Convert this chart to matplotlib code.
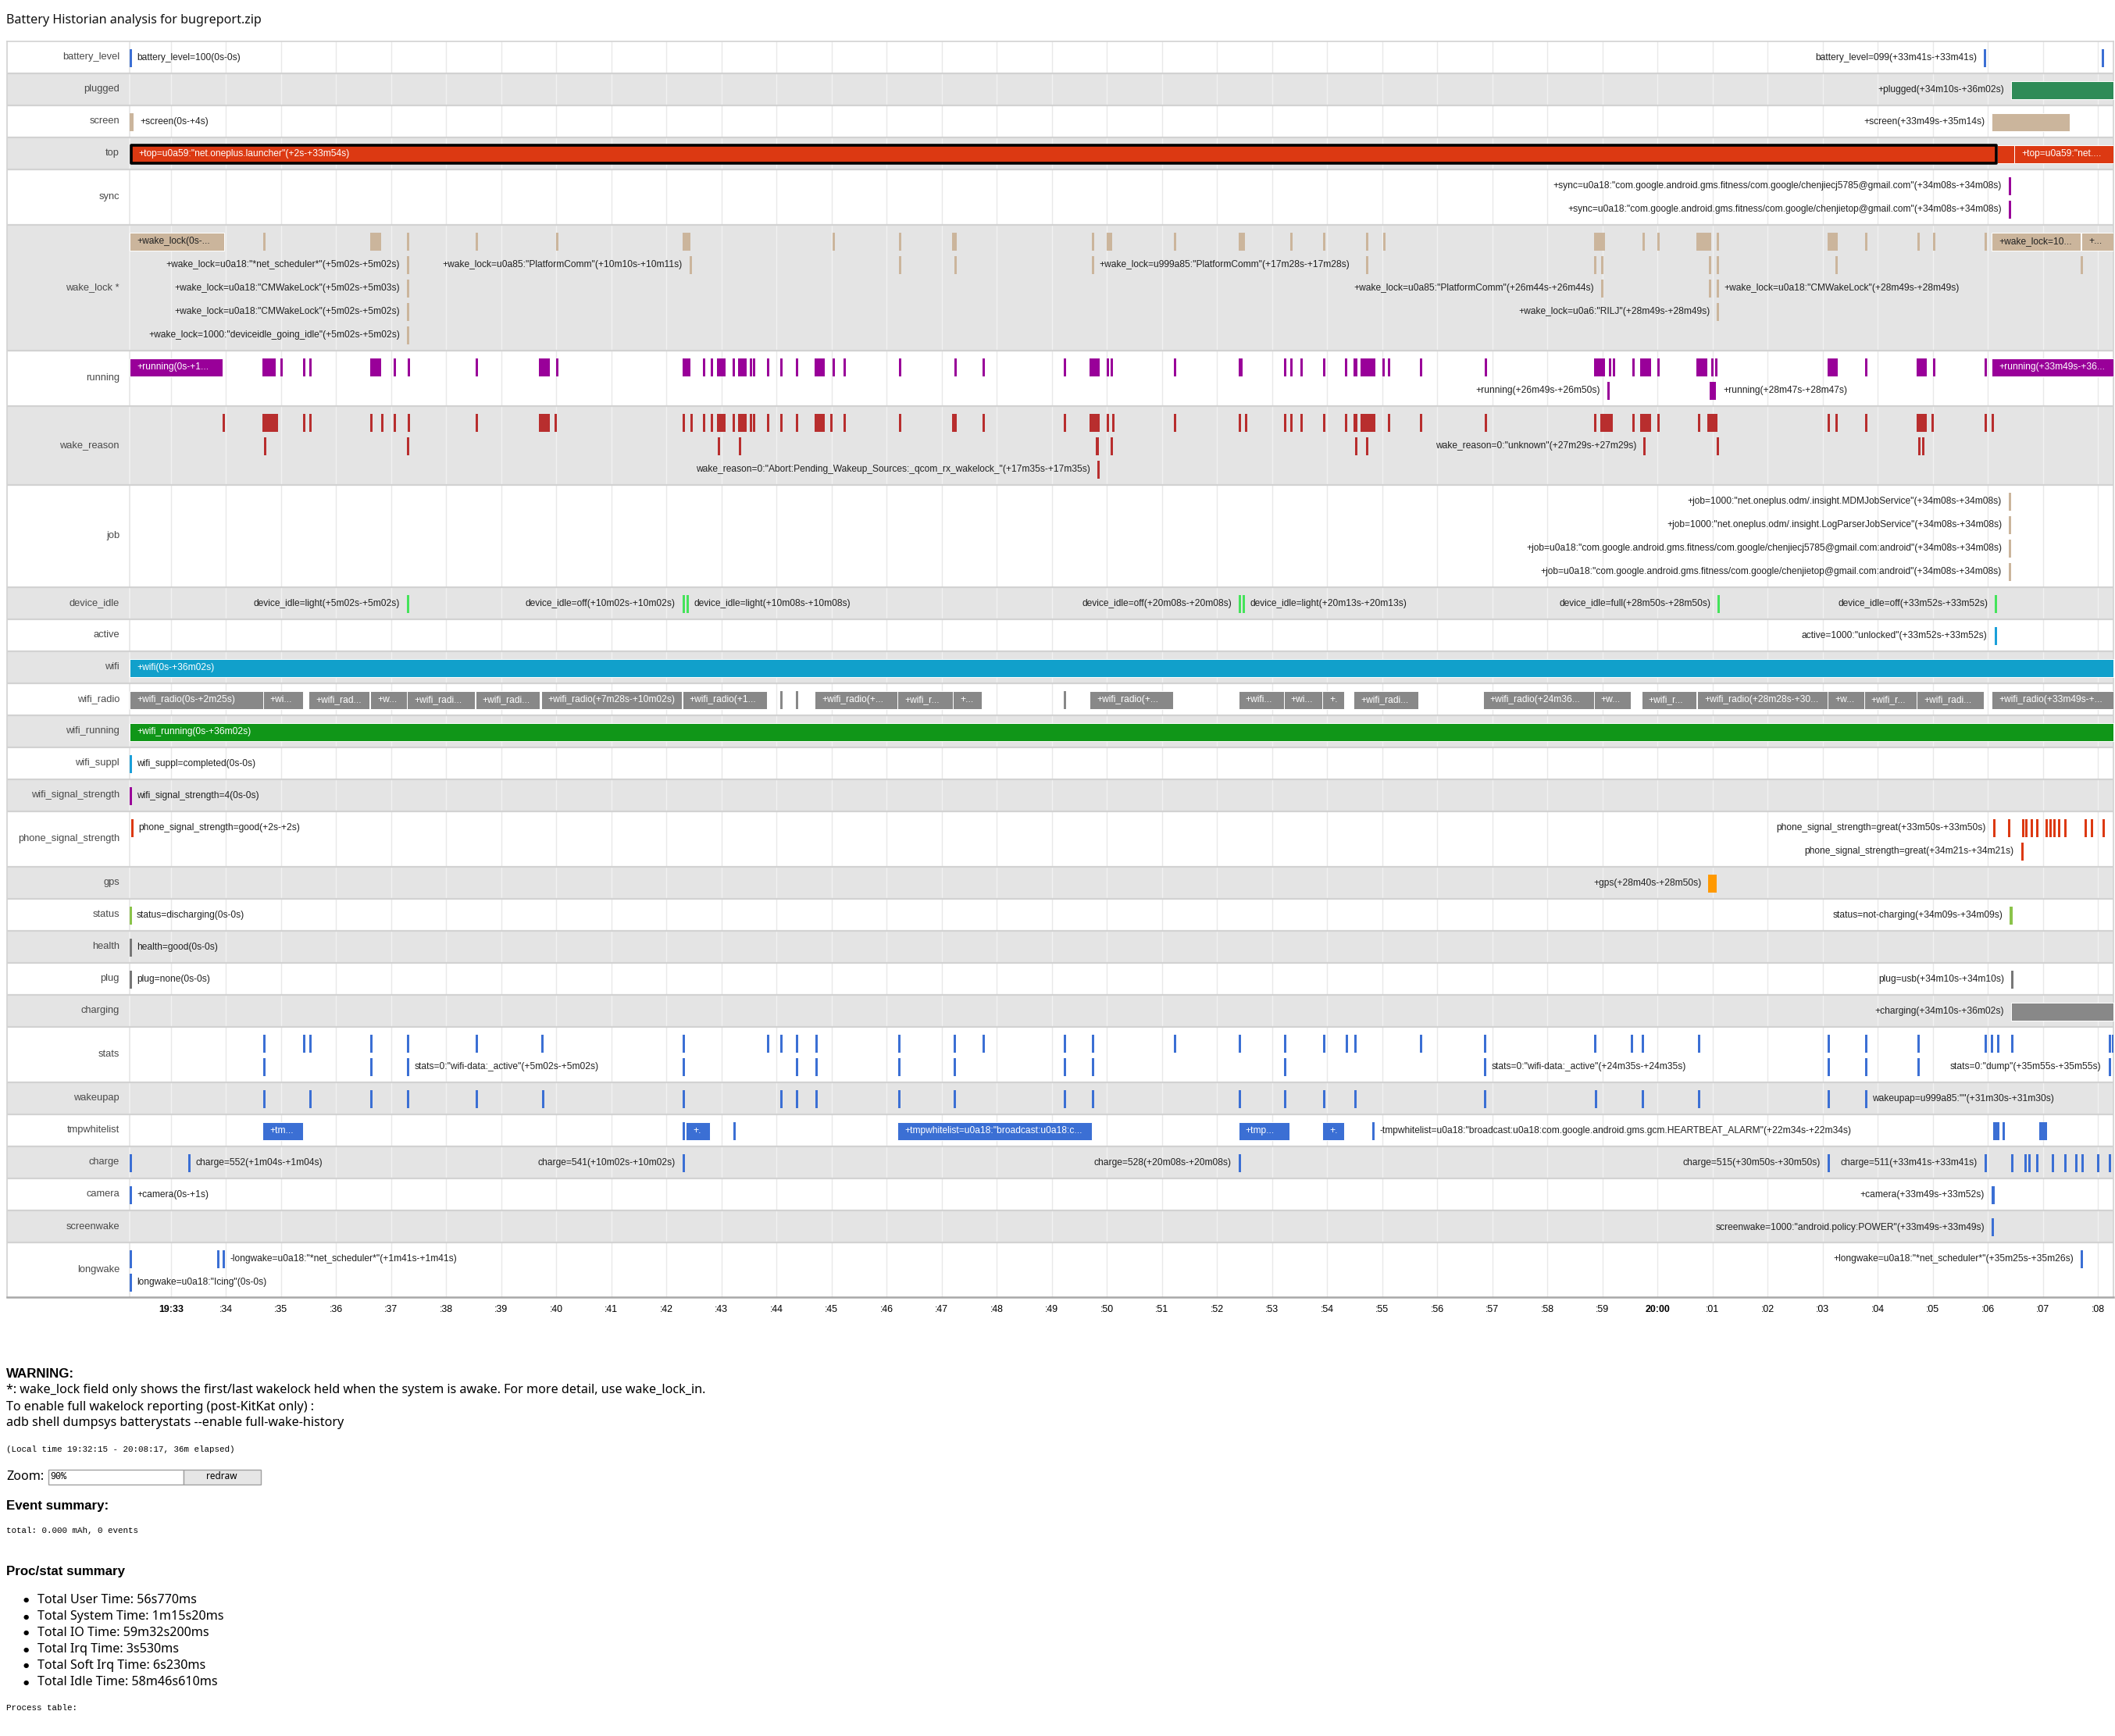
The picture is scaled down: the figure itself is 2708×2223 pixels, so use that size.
import matplotlib.pyplot as plt
from matplotlib.patches import Rectangle

W, H = 2708, 2223

# time axis: minutes after 19:32:15, run ends 20:08:17
T_END = 36.03
X0, X1 = 166, 2706          # pixel where t=0 and t=T_END
FRAME_L, FRAME_T, FRAME_B = 9, 53, 1661
PPM = (X1 - X0) / T_END     # pixels per minute
MIN_W = 3 / PPM             # instant events drawn 3px wide

ROW_NAMES = ['battery_level', 'plugged', 'screen', 'top', 'sync', 'wake_lock *', 'running',
             'wake_reason', 'job', 'device_idle', 'active', 'wifi', 'wifi_radio', 'wifi_running',
             'wifi_suppl', 'wifi_signal_strength', 'phone_signal_strength', 'gps', 'status',
             'health', 'plug', 'charging', 'stats', 'wakeupap', 'tmpwhitelist', 'charge',
             'camera', 'screenwake', 'longwake']
ROW_LANES = [1, 1, 1, 1, 2, 5, 2, 3, 4, 1, 1, 1, 1, 1, 1, 1, 2, 1, 1, 1, 1, 1, 2, 1, 1, 1, 1, 1, 2]
ROW_COLORS = ['#3b6fd4', '#2e8b57', '#cbb59c', '#dc3912', '#990099', '#cbb59c', '#990099',
              '#b82e2e', '#cbb59c', '#44e35a', '#1a9fd9', '#11a0cb', '#888888', '#109618',
              '#1a9fd9', '#990099', '#dc3912', '#ff9900', '#8bc34a', '#777777', '#777777',
              '#888888', '#3b6fd4', '#3b6fd4', '#3b6fd4', '#3b6fd4', '#3b6fd4', '#3b6fd4', '#3b6fd4']

TICK_LABELS = ['19:33', ':34', ':35', ':36', ':37', ':38', ':39', ':40', ':41', ':42', ':43',
               ':44', ':45', ':46', ':47', ':48', ':49', ':50', ':51', ':52', ':53', ':54', ':55',
               ':56', ':57', ':58', ':59', '20:00', ':01', ':02', ':03', ':04', ':05', ':06',
               ':07', ':08']
FIRST_TICK = 0.75  # 19:33:00

# ---- events per row: lanes of instants (float) or spans (start, end) in minutes ----
battery_level = [[0.0, 33.68, 35.82]]
battery_level_text = [(0, 0.0, 'r', 'battery_level=100(0s-0s)'),
                      (0, 33.68, 'l', 'battery_level=099(+33m41s-+33m41s)')]

plugged = [[(34.17, 36.03)]]
plugged_text = [(0, 34.17, 'l', '+plugged(+34m10s-+36m02s)')]

screen = [[(0.0, 0.067), (33.82, 35.23)]]
screen_text = [(0, 0.067, 'r', '+screen(0s-+4s)'), (0, 33.82, 'l', '+screen(+33m49s-+35m14s)')]

top = [[(33.92, 34.23), (34.23, 36.03)]]
top_selected = (0.033, 33.9)
top_text = [(0, 0.033, 'in', '+top=u0a59:"net.oneplus.launcher"(+2s-+33m54s)'),
            (0, 34.23, 'in', '+top=u0a59:"net....')]

sync = [[34.13], [34.13]]
sync_text = [(0, 34.13, 'l', '+sync=u0a18:"com.google.android.gms.fitness/com.google/chenjiecj5785@gmail.com"(+34m08s-+34m08s)'),
             (1, 34.13, 'l', '+sync=u0a18:"com.google.android.gms.fitness/com.google/chenjietop@gmail.com"(+34m08s-+34m08s)')]

wake_lock = [
    [(0.0, 1.72), 2.425, (4.37, 4.57), 5.04, 6.28, 7.74, (10.04, 10.19), 12.76, 13.97,
     (14.94, 15.02), 17.48, (17.74, 17.84), 18.96, (20.14, 20.25), 21.08, 21.67, 22.46, 22.76,
     (26.59, 26.79), 27.48, 27.75, (28.45, 28.73), 28.83, (30.84, 31.02), 31.52, 32.47, 32.76,
     33.69, (33.82, 35.43), (35.45, 36.03)],
    [5.04, 10.17, 13.97, 14.98, 17.48, 22.46, 26.59, 26.73, 28.68, 28.83, 30.98, 35.44],
    [5.04, 26.73, 28.68, 28.83],
    [5.04, 28.83],
    [5.04],
]
wake_lock_text = [
    (0, 0.0, 'in', '+wake_lock(0s-...'), (0, 33.82, 'in', '+wake_lock=10...'), (0, 35.45, 'in', '+...'),
    (1, 5.04, 'l', '+wake_lock=u0a18:"*net_scheduler*"(+5m02s-+5m02s)'),
    (1, 10.17, 'l', '+wake_lock=u0a85:"PlatformComm"(+10m10s-+10m11s)'),
    (1, 17.48, 'r', '+wake_lock=u999a85:"PlatformComm"(+17m28s-+17m28s)'),
    (2, 5.04, 'l', '+wake_lock=u0a18:"CMWakeLock"(+5m02s-+5m03s)'),
    (2, 26.73, 'l', '+wake_lock=u0a85:"PlatformComm"(+26m44s-+26m44s)'),
    (2, 28.83, 'r', '+wake_lock=u0a18:"CMWakeLock"(+28m49s-+28m49s)'),
    (3, 5.04, 'l', '+wake_lock=u0a18:"CMWakeLock"(+5m02s-+5m02s)'),
    (3, 28.83, 'l', '+wake_lock=u0a6:"RILJ"(+28m49s-+28m49s)'),
    (4, 5.04, 'l', '+wake_lock=1000:"deviceidle_going_idle"(+5m02s-+5m02s)'),
]

running = [
    [(0.0, 1.69), (2.41, 2.65), 2.74, 3.15, 3.26, (4.37, 4.57), 4.79, 5.05, 6.28, (7.44, 7.63),
     7.74, (10.04, 10.19), 10.41, 10.56, (10.67, 10.82), (10.95, 11.0), (11.05, 11.2), 11.26,
     11.32, 11.57, 11.82, 12.1, (12.44, 12.62), 12.76, 12.97, 13.97, 14.98, 15.49, 16.96,
     (17.44, 17.62), 17.75, 17.82, 18.96, (20.14, 20.22), 20.96, 21.08, 21.26, 21.67, 22.07,
     (22.23, 22.3), (22.35, 22.62), 22.75, 22.85, 23.43, 24.61, (26.59, 26.8), 26.87, 26.94,
     27.29, (27.44, 27.63), 27.75, (28.45, 28.65), 28.72, 28.8, (30.84, 31.02), 31.52,
     (32.45, 32.64), 32.76, 33.69, (33.82, 36.03)],
    [26.84, (28.70, 28.81)],
]
running_text = [(0, 0.0, 'in', '+running(0s-+1...'), (0, 33.82, 'in', '+running(+33m49s-+36...'),
                (1, 26.84, 'l', '+running(+26m49s-+26m50s)'),
                (1, 28.81, 'r', '+running(+28m47s-+28m47s)')]

wake_reason = [
    [1.69, (2.41, 2.69), 3.15, 3.26, 4.37, 4.57, 4.79, 5.05, 6.28, (7.44, 7.63), 7.72, 10.04,
     10.19, 10.41, 10.56, (10.67, 10.82), (10.95, 11.0), (11.05, 11.2), 11.26, 11.32, 11.57,
     11.82, 12.1, (12.44, 12.62), 12.72, 12.97, 13.97, (14.94, 15.02), 15.49, 16.96,
     (17.44, 17.62), 17.75, 17.84, 18.96, 20.14, 20.25, 20.96, 21.08, 21.26, 21.67, 22.07,
     (22.23, 22.3), (22.35, 22.62), 22.85, 23.43, 24.61, 26.59, (26.71, 26.94), 27.29,
     (27.44, 27.63), 27.75, 28.48, (28.66, 28.84), 30.84, 30.98, 31.52, (32.45, 32.64), 32.73,
     33.69, 33.82],
    [2.44, 5.04, 10.68, 11.06, (17.55, 17.6), 17.82, 22.25, 22.46, 27.49, 28.83, 32.49, 32.55],
    [17.58],
]
wake_reason_text = [
    (2, 17.58, 'l', 'wake_reason=0:"Abort:Pending_Wakeup_Sources:_qcom_rx_wakelock_"(+17m35s-+17m35s)'),
    (1, 27.49, 'l', 'wake_reason=0:"unknown"(+27m29s-+27m29s)'),
]

job = [[34.13], [34.13], [34.13], [34.13]]
job_text = [
    (0, 34.13, 'l', '+job=1000:"net.oneplus.odm/.insight.MDMJobService"(+34m08s-+34m08s)'),
    (1, 34.13, 'l', '+job=1000:"net.oneplus.odm/.insight.LogParserJobService"(+34m08s-+34m08s)'),
    (2, 34.13, 'l', '+job=u0a18:"com.google.android.gms.fitness/com.google/chenjiecj5785@gmail.com:android"(+34m08s-+34m08s)'),
    (3, 34.13, 'l', '+job=u0a18:"com.google.android.gms.fitness/com.google/chenjietop@gmail.com:android"(+34m08s-+34m08s)'),
]

device_idle = [[5.04, 10.04, 10.12, 20.14, 20.22, 28.84, 33.88]]
device_idle_text = [
    (0, 5.04, 'l', 'device_idle=light(+5m02s-+5m02s)'),
    (0, 10.04, 'l', 'device_idle=off(+10m02s-+10m02s)'),
    (0, 10.12, 'r', 'device_idle=light(+10m08s-+10m08s)'),
    (0, 20.14, 'l', 'device_idle=off(+20m08s-+20m08s)'),
    (0, 20.22, 'r', 'device_idle=light(+20m13s-+20m13s)'),
    (0, 28.84, 'l', 'device_idle=full(+28m50s-+28m50s)'),
    (0, 33.88, 'l', 'device_idle=off(+33m52s-+33m52s)'),
]

active = [[33.87]]
active_text = [(0, 33.87, 'l', 'active=1000:"unlocked"(+33m52s-+33m52s)')]

wifi = [[(0.0, 36.03)]]
wifi_text = [(0, 0.0, 'in', '+wifi(0s-+36m02s)')]

wifi_radio = [[(0.0, 2.42), (2.42, 3.15), (3.25, 4.36), (4.37, 5.03), (5.04, 6.27), (6.28, 7.45),
               (7.47, 10.03), (10.04, 11.57), 11.81, 12.1, (12.44, 13.95), (13.95, 14.95),
               (14.95, 15.48), 16.96, (17.44, 18.95), (20.14, 20.96), (20.96, 21.66),
               (21.66, 22.06), (22.23, 23.41), (24.58, 26.59), (26.59, 27.27), (27.46, 28.45),
               (28.47, 30.84), (30.84, 31.5), (31.5, 32.46), (32.46, 33.68), (33.82, 36.03)]]
wifi_radio_text = [
    (0, 0.0, 'in', '+wifi_radio(0s-+2m25s)'), (0, 2.42, 'in', '+wi...'),
    (0, 3.25, 'in', '+wifi_rad...'), (0, 4.37, 'in', '+w...'), (0, 5.04, 'in', '+wifi_radi...'),
    (0, 6.28, 'in', '+wifi_radi...'), (0, 7.47, 'in', '+wifi_radio(+7m28s-+10m02s)'),
    (0, 10.04, 'in', '+wifi_radio(+1...'), (0, 12.44, 'in', '+wifi_radio(+...'),
    (0, 13.95, 'in', '+wifi_r...'), (0, 14.95, 'in', '+...'), (0, 17.44, 'in', '+wifi_radio(+...'),
    (0, 20.14, 'in', '+wifi...'), (0, 20.96, 'in', '+wi...'), (0, 21.66, 'in', '+.'),
    (0, 22.23, 'in', '+wifi_radi...'), (0, 24.58, 'in', '+wifi_radio(+24m36...'),
    (0, 26.59, 'in', '+w...'), (0, 27.46, 'in', '+wifi_r...'),
    (0, 28.47, 'in', '+wifi_radio(+28m28s-+30...'), (0, 30.84, 'in', '+w...'),
    (0, 31.5, 'in', '+wifi_r...'), (0, 32.46, 'in', '+wifi_radi...'),
    (0, 33.82, 'in', '+wifi_radio(+33m49s-+...'),
]

wifi_running = [[(0.0, 36.03)]]
wifi_running_text = [(0, 0.0, 'in', '+wifi_running(0s-+36m02s)')]

wifi_suppl = [[0.0]]
wifi_suppl_text = [(0, 0.0, 'r', 'wifi_suppl=completed(0s-0s)')]

wifi_signal_strength = [[0.0]]
wifi_signal_strength_text = [(0, 0.0, 'r', 'wifi_signal_strength=4(0s-0s)')]

phone_signal_strength = [[0.033, 33.84, 34.11, 34.37, 34.43, 34.52, 34.63, 34.79, 34.86, 34.94,
                          35.02, 35.13, 35.5, 35.62, 35.83], [34.35]]
phone_signal_strength_text = [
    (0, 0.033, 'r', 'phone_signal_strength=good(+2s-+2s)'),
    (0, 33.84, 'l', 'phone_signal_strength=great(+33m50s-+33m50s)'),
    (1, 34.35, 'l', 'phone_signal_strength=great(+34m21s-+34m21s)'),
]

gps = [[(28.67, 28.83)]]
gps_text = [(0, 28.67, 'l', '+gps(+28m40s-+28m50s)')]

status = [[0.0, (34.15, 34.2)]]
status_text = [(0, 0.0, 'r', 'status=discharging(0s-0s)'),
               (0, 34.15, 'l', 'status=not-charging(+34m09s-+34m09s)')]

health = [[0.0]]
health_text = [(0, 0.0, 'r', 'health=good(0s-0s)')]

plug = [[0.0, 34.17]]
plug_text = [(0, 0.0, 'r', 'plug=none(0s-0s)'), (0, 34.17, 'l', 'plug=usb(+34m10s-+34m10s)')]

charging = [[(34.17, 36.03)]]
charging_text = [(0, 34.17, 'l', '+charging(+34m10s-+36m02s)')]

stats = [[2.425, 3.15, 3.26, 4.37, 5.04, 6.29, 7.48, 10.04, 11.57, 11.81, 12.1, 12.46, 13.96,
          14.96, 15.49, 16.96, 17.47, 18.96, 20.14, 20.96, 21.67, 22.08, 22.24, 23.43, 24.6,
          26.6, 27.27, 27.46, 28.48, 30.84, 31.52, 32.47, 33.69, 33.8, 33.91, 34.17, 35.94, 36.0],
         [2.425, 4.37, 5.04, 10.04, 12.1, 12.46, 13.96, 14.96, 16.96, 17.47, 20.96, 24.6, 30.84,
          31.52, 32.47, 35.94]]
stats_text = [(1, 5.04, 'r', 'stats=0:"wifi-data:_active"(+5m02s-+5m02s)'),
              (1, 24.6, 'r', 'stats=0:"wifi-data:_active"(+24m35s-+24m35s)'),
              (1, 35.94, 'l', 'stats=0:"dump"(+35m55s-+35m55s)')]

wakeupap = [[2.425, 3.26, 4.37, 5.04, 6.29, 7.49, 10.04, 11.81, 12.1, 12.46, 13.96, 14.96, 16.96,
             17.47, 20.14, 20.96, 21.68, 22.24, 24.6, 26.61, 27.46, 28.48, 30.84, 31.52]]
wakeupap_text = [(0, 31.52, 'r', 'wakeupap=u999a85:""(+31m30s-+31m30s)')]

tmpwhitelist = [[(2.41, 3.15), 10.04, (10.1, 10.54), 10.96, (13.95, 17.48), (20.14, 21.06),
                 (21.66, 22.06), 22.57, (33.84, 33.96), 34.02, (34.68, 34.83)]]
tmpwhitelist_text = [
    (0, 2.41, 'in', '+tm...'), (0, 10.1, 'in', '+.'),
    (0, 13.95, 'in', '+tmpwhitelist=u0a18:"broadcast:u0a18:c...'),
    (0, 20.14, 'in', '+tmp...'), (0, 21.66, 'in', '+.'),
    (0, 22.57, 'r', '-tmpwhitelist=u0a18:"broadcast:u0a18:com.google.android.gms.gcm.HEARTBEAT_ALARM"(+22m34s-+22m34s)'),
]

charge = [[0.0, 1.07, 10.04, 20.14, 30.84, 33.69, 34.17, 34.41, 34.49, 34.63, 34.91, 35.13, 35.34,
           35.45, 35.73, 35.94]]
charge_text = [(0, 1.07, 'r', 'charge=552(+1m04s-+1m04s)'),
               (0, 10.04, 'l', 'charge=541(+10m02s-+10m02s)'),
               (0, 20.14, 'l', 'charge=528(+20m08s-+20m08s)'),
               (0, 30.84, 'l', 'charge=515(+30m50s-+30m50s)'),
               (0, 33.69, 'l', 'charge=511(+33m41s-+33m41s)')]

camera = [[0.0, (33.82, 33.87)]]
camera_text = [(0, 0.0, 'r', '+camera(0s-+1s)'), (0, 33.82, 'l', '+camera(+33m49s-+33m52s)')]

screenwake = [[33.82]]
screenwake_text = [(0, 33.82, 'l', 'screenwake=1000:"android.policy:POWER"(+33m49s-+33m49s)')]

longwake = [[0.0, 1.59, 1.69, 35.44], [0.0]]
longwake_text = [(0, 1.69, 'r', '-longwake=u0a18:"*net_scheduler*"(+1m41s-+1m41s)'),
                 (0, 35.44, 'l', '+longwake=u0a18:"*net_scheduler*"(+35m25s-+35m26s)'),
                 (1, 0.0, 'r', 'longwake=u0a18:"Icing"(0s-0s)')]

ROW_MARKS = [battery_level, plugged, screen, top, sync, wake_lock, running, wake_reason, job,
             device_idle, active, wifi, wifi_radio, wifi_running, wifi_suppl,
             wifi_signal_strength, phone_signal_strength, gps, status, health, plug, charging,
             stats, wakeupap, tmpwhitelist, charge, camera, screenwake, longwake]
ROW_TEXT = [battery_level_text, plugged_text, screen_text, top_text, sync_text, wake_lock_text,
            running_text, wake_reason_text, job_text, device_idle_text, active_text, wifi_text,
            wifi_radio_text, wifi_running_text, wifi_suppl_text, wifi_signal_strength_text,
            phone_signal_strength_text, gps_text, status_text, health_text, plug_text,
            charging_text, stats_text, wakeupap_text, tmpwhitelist_text, charge_text,
            camera_text, screenwake_text, longwake_text]

LABEL_FONT = ['Liberation Sans', 'DejaVu Sans']
PAGE_FONT = ['Noto Sans', 'DejaVu Sans']
BOLD_FONT = ['Liberation Sans', 'DejaVu Sans']
MONO_FONT = ['Liberation Mono', 'DejaVu Sans Mono']
FS = 8.65
ROW_FS = 9.3


def span(m):
    if isinstance(m, tuple):
        return m[0], max(m[1] - m[0], MIN_W)
    return m, MIN_W


fig = plt.figure(figsize=(W / 100, H / 100), dpi=100)
ax = fig.add_axes([FRAME_L / W, 1 - FRAME_B / H, (X1 - FRAME_L) / W, (FRAME_B - FRAME_T) / H])
ax.set_xlim(-(X0 - FRAME_L) / PPM, T_END)
ax.set_ylim(FRAME_B, FRAME_T)

ticks = [FIRST_TICK + k for k in range(len(TICK_LABELS))]

y = FRAME_T
for i, name in enumerate(ROW_NAMES):
    h = 41 + 30 * (ROW_LANES[i] - 1)
    grey = i % 2 == 1
    ax.axhspan(y, y + h, color='#e4e4e4' if grey else 'white', zorder=0, lw=0)
    ax.vlines(ticks, y, y + h, colors='#f1f1f1' if grey else '#e9e9e9', lw=1, zorder=1)
    ax.vlines([0], y, y + h, colors='#f1f1f1' if grey else '#e6e6e6', lw=1.2, zorder=1)
    if i > 0:
        ax.axhline(y, color='#d2d2d2', lw=1.6, zorder=2)
    ax.text(-13 / PPM, y + h / 2, name, ha='right', va='center', fontsize=ROW_FS,
            family=LABEL_FONT, color='#4a4a4a', zorder=5)

    color = ROW_COLORS[i]
    dark_text = color == '#cbb59c'
    for lane, marks in enumerate(ROW_MARKS[i]):
        yc = y + 21.5 + 30 * lane
        xr = [span(m) for m in marks]
        wide = [r for r in xr if r[1] > 0.3]
        thin = [r for r in xr if r[1] <= 0.3]
        if thin:
            ax.broken_barh(thin, (yc - 11.3, 22.6), facecolors=color, lw=0, zorder=3)
        if wide:
            ax.broken_barh(wide, (yc - 11.3, 22.6), facecolors=color, edgecolors='white',
                           lw=0.7, zorder=3)
    if name == 'top':
        ax.broken_barh([(top_selected[0], top_selected[1] - top_selected[0])],
                       (y + 21.5 - 11.3, 22.6), facecolors=color, edgecolors='black',
                       lw=2.6, zorder=4)

    for lane, t, side, s in ROW_TEXT[i]:
        yc = y + 21.5 + 30 * lane
        if side == 'in':
            ax.text(t + 9 / PPM, yc, s, ha='left', va='center', fontsize=FS, family=LABEL_FONT,
                    color='#222222' if dark_text else 'white', zorder=6)
        elif side == 'l':
            ax.text(t - 9 / PPM, yc, s, ha='right', va='center', fontsize=FS,
                    family=LABEL_FONT, color='#222222', zorder=6)
        else:
            ax.text(t + 9 / PPM, yc, s, ha='left', va='center', fontsize=FS,
                    family=LABEL_FONT, color='#222222', zorder=6)
    y += h

ax.set_xticks(ticks)
ax.set_xticklabels(TICK_LABELS, fontsize=8.9, family=LABEL_FONT)
for lbl in ax.get_xticklabels():
    if lbl.get_text() in ('19:33', '20:00'):
        lbl.set_fontweight('bold')
ax.tick_params(axis='x', length=0, pad=7.5)
ax.set_yticks([])
for side in ('left', 'right', 'top'):
    ax.spines[side].set_color('#d2d2d2')
    ax.spines[side].set_linewidth(1.2)
ax.spines['bottom'].set_color('#a8a8a8')
ax.spines['bottom'].set_linewidth(1.8)


def px(x, y):
    return x / W, 1 - y / H


fig.text(*px(8, 26), 'Battery Historian analysis for bugreport.zip', fontsize=11.6,
         family=PAGE_FONT, va='center', color='#111111')

PAGE_FS = 11.6
BOLD_FS = 12.2
fig.text(*px(8, 1759), 'WARNING:', fontsize=BOLD_FS, family=BOLD_FONT, weight='bold', va='center')
warning_lines = ['*: wake_lock field only shows the first/last wakelock held when the system is awake. For more detail, use wake_lock_in.',
                 'To enable full wakelock reporting (post-KitKat only) :',
                 'adb shell dumpsys batterystats --enable full-wake-history']
for k, line in enumerate(warning_lines):
    fig.text(*px(8, 1780.5 + 21 * k), line, fontsize=PAGE_FS, family=PAGE_FONT, va='center')

fig.text(*px(8, 1856), '(Local time 19:32:15 - 20:08:17, 36m elapsed)', fontsize=7.85,
         family=MONO_FONT, va='center')

fig.text(*px(8, 1891), 'Zoom:', fontsize=PAGE_FS, family=PAGE_FONT, va='center')
fig.patches.append(Rectangle(px(62, 1901), 173 / W, 19 / H, transform=fig.transFigure,
                             facecolor='white', edgecolor='#a0a0a0', lw=1))
fig.text(*px(64, 1891), '90%', fontsize=8.5, family=MONO_FONT, va='center')
fig.patches.append(Rectangle(px(235, 1901), 99 / W, 19 / H, transform=fig.transFigure,
                             facecolor='#e6e6e6', edgecolor='#a0a0a0', lw=1))
fig.text(*px(284, 1891), 'redraw', fontsize=8.5, family=PAGE_FONT, va='center', ha='center')

fig.text(*px(8, 1929), 'Event summary:', fontsize=BOLD_FS, family=BOLD_FONT, weight='bold',
         va='center')
fig.text(*px(8, 1960), 'total: 0.000 mAh, 0 events', fontsize=7.85, family=MONO_FONT, va='center')
fig.text(*px(8, 2012), 'Proc/stat summary', fontsize=BOLD_FS, family=BOLD_FONT, weight='bold',
         va='center')
proc_stats = ['Total User Time: 56s770ms', 'Total System Time: 1m15s20ms',
              'Total IO Time: 59m32s200ms', 'Total Irq Time: 3s530ms',
              'Total Soft Irq Time: 6s230ms', 'Total Idle Time: 58m46s610ms']
for k, line in enumerate(proc_stats):
    yy = 2049 + 21 * k
    fig.text(*px(33, yy), '\u25cf', fontsize=6, family=['DejaVu Sans'], va='center', ha='center')
    fig.text(*px(48, yy), line, fontsize=PAGE_FS, family=PAGE_FONT, va='center')
fig.text(*px(8, 2187), 'Process table:', fontsize=7.85, family=MONO_FONT, va='center')

fig.savefig('out.png', dpi=100)
